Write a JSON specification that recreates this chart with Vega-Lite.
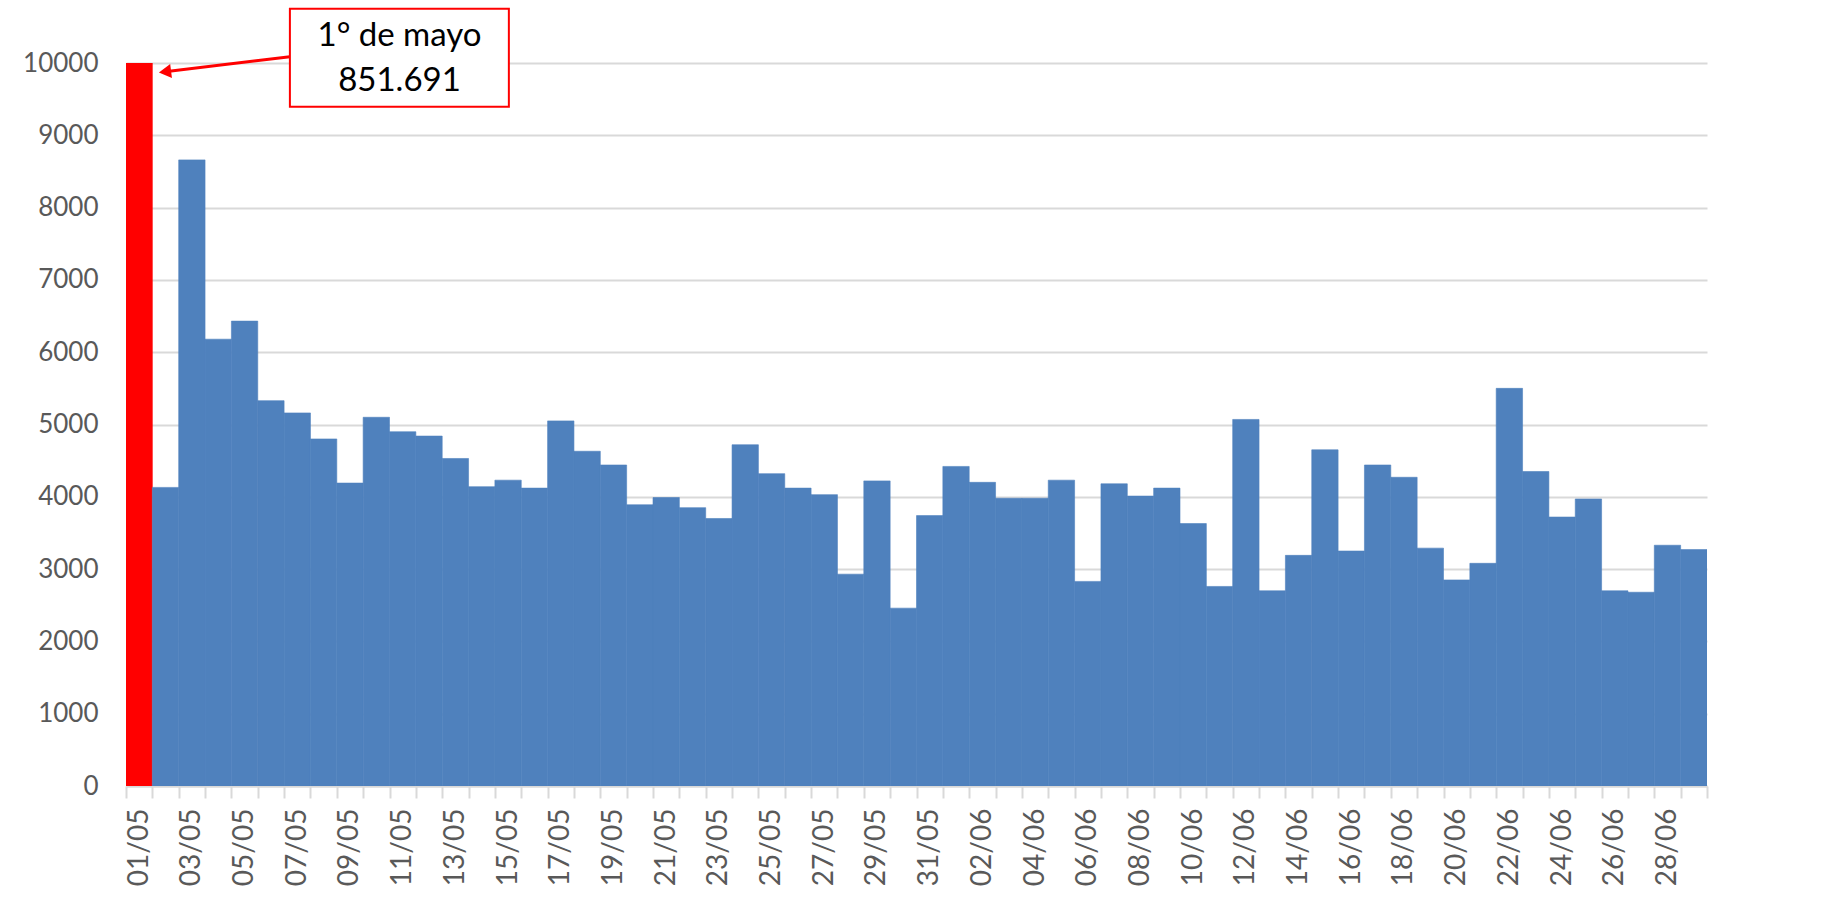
{
  "$schema": "https://vega.github.io/schema/vega-lite/v6.json",
  "autosize": {"type": "none"},
  "width": 1581,
  "height": 723,
  "padding": {"left": 126, "top": 63, "right": 138, "bottom": 127},
  "background": "white",
  "config": {
    "view": {"stroke": null},
    "font": "Lato",
    "numberFormat": "d",
    "axisX": {
      "title": null,
      "labelAngle": -90,
      "labelFontSize": 28,
      "labelColor": "#595959",
      "labelFont": "Lato",
      "labelPadding": 10,
      "labelOverlap": false,
      "tickBand": "extent",
      "tickColor": "#D9D9D9",
      "tickWidth": 2,
      "tickSize": 12,
      "domainColor": "#D9D9D9",
      "domainWidth": 2,
      "grid": false,
      "labelExpr": "test(/^(([012][13579]|31)[/]05|(0[2468]|[12][02468])[/]06)$/, '' + datum.label) ? datum.label : ''"
    },
    "axisY": {
      "title": null,
      "grid": true,
      "gridColor": "#D9D9D9",
      "gridWidth": 2,
      "domain": false,
      "ticks": false,
      "tickCount": 11,
      "labelFontSize": 26,
      "labelColor": "#595959",
      "labelFont": "Lato",
      "labelPadding": 28
    }
  },
  "resolve": {"axis": {"x": "independent", "y": "independent"}},
  "data": {
    "values": [
      {"fecha": "01/05", "valor": 851691},
      {"fecha": "02/05", "valor": 4130},
      {"fecha": "03/05", "valor": 8660},
      {"fecha": "04/05", "valor": 6180},
      {"fecha": "05/05", "valor": 6430},
      {"fecha": "06/05", "valor": 5330},
      {"fecha": "07/05", "valor": 5160},
      {"fecha": "08/05", "valor": 4800},
      {"fecha": "09/05", "valor": 4190},
      {"fecha": "10/05", "valor": 5100},
      {"fecha": "11/05", "valor": 4900},
      {"fecha": "12/05", "valor": 4840},
      {"fecha": "13/05", "valor": 4530},
      {"fecha": "14/05", "valor": 4140},
      {"fecha": "15/05", "valor": 4230},
      {"fecha": "16/05", "valor": 4120},
      {"fecha": "17/05", "valor": 5050},
      {"fecha": "18/05", "valor": 4630},
      {"fecha": "19/05", "valor": 4440},
      {"fecha": "20/05", "valor": 3890},
      {"fecha": "21/05", "valor": 3990},
      {"fecha": "22/05", "valor": 3850},
      {"fecha": "23/05", "valor": 3700},
      {"fecha": "24/05", "valor": 4720},
      {"fecha": "25/05", "valor": 4320},
      {"fecha": "26/05", "valor": 4120},
      {"fecha": "27/05", "valor": 4030},
      {"fecha": "28/05", "valor": 2930},
      {"fecha": "29/05", "valor": 4220},
      {"fecha": "30/05", "valor": 2460},
      {"fecha": "31/05", "valor": 3740},
      {"fecha": "01/06", "valor": 4420},
      {"fecha": "02/06", "valor": 4200},
      {"fecha": "03/06", "valor": 3980},
      {"fecha": "04/06", "valor": 3980},
      {"fecha": "05/06", "valor": 4230},
      {"fecha": "06/06", "valor": 2830},
      {"fecha": "07/06", "valor": 4180},
      {"fecha": "08/06", "valor": 4010},
      {"fecha": "09/06", "valor": 4120},
      {"fecha": "10/06", "valor": 3630},
      {"fecha": "11/06", "valor": 2760},
      {"fecha": "12/06", "valor": 5070},
      {"fecha": "13/06", "valor": 2700},
      {"fecha": "14/06", "valor": 3190},
      {"fecha": "15/06", "valor": 4650},
      {"fecha": "16/06", "valor": 3250},
      {"fecha": "17/06", "valor": 4440},
      {"fecha": "18/06", "valor": 4270},
      {"fecha": "19/06", "valor": 3290},
      {"fecha": "20/06", "valor": 2850},
      {"fecha": "21/06", "valor": 3080},
      {"fecha": "22/06", "valor": 5500},
      {"fecha": "23/06", "valor": 4350},
      {"fecha": "24/06", "valor": 3720},
      {"fecha": "25/06", "valor": 3970},
      {"fecha": "26/06", "valor": 2700},
      {"fecha": "27/06", "valor": 2680},
      {"fecha": "28/06", "valor": 3330},
      {"fecha": "29/06", "valor": 3270}
    ]
  },
  "layer": [
    {
      "mark": {"type": "bar", "clip": true, "strokeWidth": 0.6},
      "encoding": {
        "x": {
          "field": "fecha",
          "type": "ordinal",
          "sort": null,
          "scale": {"paddingInner": 0, "paddingOuter": 0}
        },
        "y": {
          "field": "valor",
          "type": "quantitative",
          "scale": {"domain": [0, 10000], "nice": false}
        },
        "color": {
          "condition": {"test": "datum.fecha == '01/05'", "value": "#FF0000"},
          "value": "#4F81BD"
        },
        "stroke": {
          "condition": {"test": "datum.fecha == '01/05'", "value": "#FF0000"},
          "value": "#4F81BD"
        }
      }
    },
    {
      "data": {"values": [{}]},
      "mark": {"type": "rule", "color": "#FF0000", "strokeWidth": 3, "clip": false},
      "encoding": {
        "x": {"datum": "07/05", "type": "ordinal", "bandPosition": 0.22, "axis": null},
        "x2": {"datum": "02/05", "bandPosition": 0.48},
        "y": {"datum": 10087, "type": "quantitative", "axis": null},
        "y2": {"datum": 9880}
      }
    },
    {
      "data": {"values": [{}]},
      "mark": {"type": "point", "shape": "triangle-left", "filled": true, "color": "#FF0000", "size": 200, "angle": -7, "opacity": 1, "clip": false},
      "encoding": {
        "x": {"datum": "02/05", "type": "ordinal", "bandPosition": 0.48, "axis": null},
        "y": {"datum": 9880, "type": "quantitative", "axis": null}
      }
    },
    {
      "data": {"values": [{}]},
      "mark": {"type": "rect", "fill": "white", "stroke": "#FF0000", "strokeWidth": 2, "clip": false},
      "encoding": {
        "x": {"datum": "07/05", "type": "ordinal", "bandPosition": 0.22, "axis": null},
        "x2": {"datum": "15/05", "bandPosition": 0.53},
        "y": {"datum": 10750, "type": "quantitative", "axis": null},
        "y2": {"datum": 9395}
      }
    },
    {
      "data": {"values": [{}]},
      "mark": {"type": "text", "font": "Lato", "fontSize": 33, "color": "#000000", "align": "center", "baseline": "middle", "lineHeight": 45, "clip": false},
      "encoding": {
        "x": {"datum": "11/05", "type": "ordinal", "bandPosition": 0.38, "axis": null},
        "y": {"datum": 10377, "type": "quantitative", "axis": null},
        "text": {"value": ["1° de mayo", "851.691"]}
      }
    }
  ]
}
